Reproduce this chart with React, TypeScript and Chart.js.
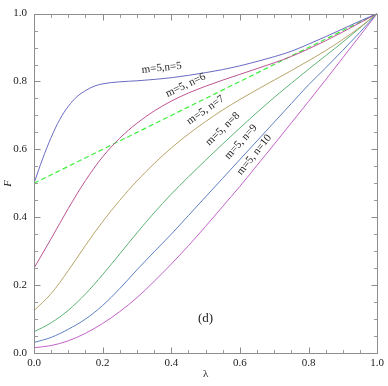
import { useEffect, useRef } from 'react';
import { Chart, registerables } from 'chart.js';

Chart.register(...registerables);

// ---- data ----
const lambdaN5 = [0, 0.025, 0.05, 0.075, 0.1, 0.125, 0.15, 0.175, 0.2, 0.25, 0.3, 0.35, 0.4, 0.45, 0.5, 0.55, 0.6, 0.65, 0.7, 0.75, 0.8, 0.85, 0.9, 0.95, 1];
const fN5 = [0.5, 0.572, 0.635, 0.688, 0.727, 0.755, 0.773, 0.786, 0.793, 0.799, 0.802, 0.806, 0.811, 0.818, 0.826, 0.835, 0.846, 0.859, 0.873, 0.889, 0.91, 0.932, 0.955, 0.978, 1];

const lambda = [0, 0.05, 0.1, 0.15, 0.2, 0.25, 0.3, 0.35, 0.4, 0.45, 0.5, 0.55, 0.6, 0.65, 0.7, 0.75, 0.8, 0.85, 0.9, 0.95, 1];
const fN6 = [0.25, 0.337, 0.426, 0.508, 0.578, 0.633, 0.677, 0.713, 0.742, 0.766, 0.786, 0.804, 0.821, 0.838, 0.855, 0.874, 0.896, 0.92, 0.946, 0.973, 1];
const fN7 = [0.125, 0.175, 0.243, 0.317, 0.387, 0.45, 0.507, 0.558, 0.604, 0.645, 0.682, 0.716, 0.747, 0.776, 0.804, 0.832, 0.861, 0.891, 0.924, 0.96, 1];
const fN8 = [0.0625, 0.089, 0.126, 0.174, 0.231, 0.292, 0.354, 0.413, 0.468, 0.519, 0.568, 0.616, 0.663, 0.709, 0.753, 0.795, 0.836, 0.876, 0.916, 0.958, 1];
const fN9 = [0.031, 0.046, 0.07, 0.1, 0.14, 0.19, 0.245, 0.298, 0.35, 0.405, 0.46, 0.515, 0.57, 0.625, 0.68, 0.735, 0.79, 0.84, 0.892, 0.945, 1];
const fN10 = [0.0156, 0.022, 0.036, 0.058, 0.087, 0.122, 0.163, 0.211, 0.262, 0.316, 0.373, 0.432, 0.491, 0.553, 0.615, 0.678, 0.741, 0.805, 0.87, 0.935, 1];

const refLambda = [0, 1];
const refF = [0.5, 1];

const majorTicks = [0, 0.2, 0.4, 0.6, 0.8, 1.0];
const minorTicks = [0.05, 0.1, 0.15, 0.25, 0.3, 0.35, 0.45, 0.5, 0.55, 0.65, 0.7, 0.75, 0.85, 0.9, 0.95];

const curveLabels = ['m=5,n=5', 'm=5, n=6', 'm=5, n=7', 'm=5, n=8', 'm=5, n=9', 'm=5, n=10'];
const curveLabelLambda = [0.372, 0.442, 0.5, 0.55, 0.603, 0.642];
const curveLabelF = [0.84, 0.789, 0.716, 0.66, 0.622, 0.584];
const curveLabelAngle = [-6, -25, -35, -44, -48, -51];

const panelLabel = '(d)';
const panelLambda = 0.5;
const panelF = 0.1;

const SERIF = '"Liberation Serif", "Times New Roman", Times, serif';

const toPts = (xs: number[], ys: number[]) => xs.map((x, i) => ({ x, y: ys[i] }));

const decorPlugin = {
  id: 'decor',
  afterDatasetsDraw(chart: any) {
    const { ctx, chartArea, scales } = chart;
    const xs = scales.x;
    const ys = scales.y;
    const l = Math.round(chartArea.left) + 0.5;
    const r = Math.round(chartArea.right) + 0.5;
    const t = Math.round(chartArea.top) + 0.5;
    const b = Math.round(chartArea.bottom) + 0.5;
    ctx.save();
    ctx.lineWidth = 1;
    ctx.strokeStyle = '#8c8c8c';
    ctx.strokeRect(l, t, r - l, b - t);
    const drawTicks = (vals: number[], len: number, color: string) => {
      ctx.strokeStyle = color;
      ctx.beginPath();
      for (const v of vals) {
        const px = Math.round(xs.getPixelForValue(v)) + 0.5;
        ctx.moveTo(px, b); ctx.lineTo(px, b - len);
        ctx.moveTo(px, t); ctx.lineTo(px, t + len);
        const py = Math.round(ys.getPixelForValue(v)) + 0.5;
        ctx.moveTo(l, py); ctx.lineTo(l + len, py);
        ctx.moveTo(r, py); ctx.lineTo(r - len, py);
      }
      ctx.stroke();
    };
    drawTicks(majorTicks, 6, '#8c8c8c');
    drawTicks(minorTicks, 3.5, '#9a9a9a');

    ctx.fillStyle = '#222';
    ctx.font = `11px ${SERIF}`;
    ctx.textAlign = 'center';
    ctx.textBaseline = 'middle';
    curveLabels.forEach((txt, i) => {
      const px = xs.getPixelForValue(curveLabelLambda[i]);
      const py = ys.getPixelForValue(curveLabelF[i]);
      ctx.save();
      ctx.translate(px, py);
      ctx.rotate((curveLabelAngle[i] * Math.PI) / 180);
      ctx.fillText(txt, 0, 0);
      ctx.restore();
    });

    ctx.font = `13px ${SERIF}`;
    ctx.fillText(panelLabel, xs.getPixelForValue(panelLambda), ys.getPixelForValue(panelF));

    ctx.font = `11px ${SERIF}`;
    ctx.fillText('\u03bb', (chartArea.left + chartArea.right) / 2, chart.height - 12);
    ctx.save();
    ctx.translate(8, (chartArea.top + chartArea.bottom) / 2);
    ctx.rotate(-Math.PI / 2);
    ctx.font = `italic 11px ${SERIF}`;
    ctx.fillText('F', 0, 0);
    ctx.restore();

    ctx.restore();
  },
};

export default function App() {
  const ref = useRef<HTMLCanvasElement | null>(null);
  useEffect(() => {
    if (!ref.current) return;
    const line = (data: any, color: string, extra: any = {}) => ({
      data,
      borderColor: color,
      backgroundColor: color,
      borderWidth: 1,
      pointRadius: 0,
      fill: false,
      cubicInterpolationMode: 'monotone',
      ...extra,
    });
    const chart = new Chart(ref.current, {
      type: 'line',
      data: {
        datasets: [
          line(toPts(lambdaN5, fN5), '#6a6ac4'),
          line(toPts(lambda, fN6), '#bb5591'),
          line(toPts(lambda, fN7), '#b8a46a'),
          line(toPts(lambda, fN8), '#5fb276'),
          line(toPts(lambda, fN9), '#5c80c2'),
          line(toPts(lambda, fN10), '#c262c8'),
          line(toPts(refLambda, refF), '#3cf03c', { borderDash: [5, 3], borderWidth: 1.2 }),
        ],
      },
      options: {
        animation: false,
        responsive: false,
        devicePixelRatio: 1,
        layout: { padding: { top: 6, right: 7, left: 0, bottom: 0 } },
        plugins: { legend: { display: false }, tooltip: { enabled: false } },
        scales: {
          x: {
            type: 'linear',
            min: 0,
            max: 1,
            grid: { display: false, drawTicks: false },
            border: { display: false },
            ticks: {
              stepSize: 0.2,
              padding: 4,
              color: '#222',
              font: { family: SERIF, size: 11 },
              callback: (v: any) => Number(v).toFixed(1),
            },
            afterFit: (s: any) => { s.height = 33; },
          },
          y: {
            type: 'linear',
            min: 0,
            max: 1,
            grid: { display: false, drawTicks: false },
            border: { display: false },
            ticks: {
              stepSize: 0.2,
              padding: 7,
              color: '#222',
              font: { family: SERIF, size: 11 },
              callback: (v: any) => Number(v).toFixed(1),
            },
            afterFit: (s: any) => { s.width = 34; },
          },
        },
      },
      plugins: [decorPlugin],
    });
    return () => chart.destroy();
  }, []);
  return (
    <div style={{ position: 'absolute', left: 0, top: 0, width: 388, height: 386, background: '#fff' }}>
      <canvas ref={ref} width={388} height={386} style={{ width: 388, height: 386, display: 'block' }} />
    </div>
  );
}
